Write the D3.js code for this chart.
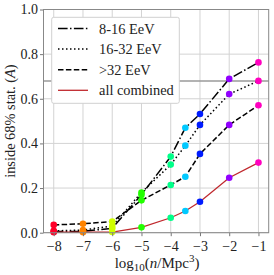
<!DOCTYPE html>
<html>
<head>
<meta charset="utf-8">
<script src="https://cdn.jsdelivr.net/npm/d3@7"></script>
<style>
body { margin: 0; background: #fff; }
text { font-family: "Liberation Serif", "DejaVu Serif", serif; fill: #222; }
</style>
</head>
<body>
<script>
// number density, log10(n/Mpc^3)
var logDensity = [-8, -7, -6, -5, -4, -3.5, -3, -2, -1];

// fraction inside the 68% stat. region
var energy8to16 = [0.005, 0.006, 0.02, 0.17, 0.341, 0.470, 0.532, 0.689, 0.763];
var energy16to32 = [0.008, 0.012, 0.03, 0.18, 0.305, 0.390, 0.483, 0.621, 0.680];
var energyAbove32 = [0.035, 0.040, 0.05, 0.145, 0.214, 0.251, 0.353, 0.483, 0.571];
var allCombined = [0.002, 0.002, 0.003, 0.024, 0.067, 0.097, 0.139, 0.246, 0.314];

var seriesNames = ["8-16 EeV", "16-32 EeV", ">32 EeV", "all combined"];
var xTicks = [-8, -7, -6, -5, -4, -3, -2, -1];
var yTicks = [0, 0.2, 0.4, 0.6, 0.8, 1.0];
var refLevel = 0.68;

(function(){

var width = 274, height = 275;
var plotLeft = 43.5, plotRight = 268.7, plotTop = 9.5, plotBottom = 232.7;

var series = [
	{name: seriesNames[0], values: energy8to16, dash: "9.6,2.4,1.5,2.4", color: "#000", lw: 1.5},
	{name: seriesNames[1], values: energy16to32, dash: "1.5,2.5", color: "#000", lw: 1.5},
	{name: seriesNames[2], values: energyAbove32, dash: "5.5,2.4", color: "#000", lw: 1.5},
	{name: seriesNames[3], values: allCombined, dash: null, color: "#c0282d", lw: 1.3}
];

// gist_rainbow, sampled by point index
var rainbow = d3.scaleLinear()
	.domain([0, 0.03, 0.215, 0.4, 0.586, 0.77, 0.954, 1])
	.range(["#ff0029", "#ff0000", "#ffff00", "#00ff00", "#00ffff", "#0000ff", "#ff00ff", "#ff00bf"]);

var x = d3.scaleLinear().domain([-8.35, -0.65]).range([plotLeft, plotRight]);
var y = d3.scaleLinear().domain([0, 1]).range([plotBottom, plotTop]);

var svg = d3.select("body").append("svg")
	.attr("width", width)
	.attr("height", height);

// grid
svg.append("g").selectAll("line").data(xTicks).join("line")
	.attr("x1", function(d){ return x(d); })
	.attr("x2", function(d){ return x(d); })
	.attr("y1", plotTop).attr("y2", plotBottom)
	.attr("stroke", "#d3d3d3").attr("stroke-width", 1);
svg.append("g").selectAll("line").data(yTicks).join("line")
	.attr("x1", plotLeft).attr("x2", plotRight)
	.attr("y1", function(d){ return y(d); })
	.attr("y2", function(d){ return y(d); })
	.attr("stroke", "#d3d3d3").attr("stroke-width", 1);

svg.append("line")
	.attr("x1", plotLeft).attr("x2", plotRight)
	.attr("y1", y(refLevel)).attr("y2", y(refLevel))
	.attr("stroke", "#9a9a9a").attr("stroke-width", 1.5);

// lines
var line = d3.line()
	.x(function(d, i){ return x(logDensity[i]); })
	.y(function(d){ return y(d); });

series.forEach(function(s){
	svg.append("path")
		.attr("d", line(s.values))
		.attr("fill", "none")
		.attr("stroke", s.color)
		.attr("stroke-width", s.lw)
		.attr("stroke-dasharray", s.dash);
});

series.forEach(function(s){
	svg.append("g").selectAll("circle").data(s.values).join("circle")
		.attr("cx", function(d, i){ return x(logDensity[i]); })
		.attr("cy", function(d){ return y(d); })
		.attr("r", 3.3)
		.attr("fill", function(d, i){ return rainbow(i / (logDensity.length - 1)); });
});

// axes
var xAxis = svg.append("g")
	.attr("transform", "translate(0," + plotBottom + ")")
	.call(d3.axisBottom(x).tickValues(xTicks).tickSizeOuter(0).tickSize(3.5).tickPadding(5)
		.tickFormat(function(d){ return "\u2212" + Math.abs(d); }));
var yAxis = svg.append("g")
	.attr("transform", "translate(" + plotLeft + ",0)")
	.call(d3.axisLeft(y).tickValues(yTicks).tickSizeOuter(0).tickSize(3.5).tickPadding(2)
		.tickFormat(d3.format(".1f")));

[xAxis, yAxis].forEach(function(a){
	a.select(".domain").remove();
	a.selectAll("line").attr("stroke", "#777");
	a.selectAll("text").attr("font-size", 14).attr("fill", "#222")
		.style("font-family", "Liberation Serif, serif");
});

svg.append("rect")
	.attr("x", plotLeft).attr("y", plotTop)
	.attr("width", plotRight - plotLeft).attr("height", plotBottom - plotTop)
	.attr("fill", "none").attr("stroke", "#888").attr("stroke-width", 1);

// legend
var legend = svg.append("g");
legend.append("rect")
	.attr("x", 51.7).attr("y", 17.3)
	.attr("width", 127.6).attr("height", 86)
	.attr("rx", 2)
	.attr("fill", "#fff").attr("stroke", "#d0d0d0");

series.forEach(function(s, i){
	var ly = 28.5 + i * 20.6;
	legend.append("line")
		.attr("x1", 58).attr("x2", 88)
		.attr("y1", ly).attr("y2", ly)
		.attr("stroke", s.color)
		.attr("stroke-width", s.lw)
		.attr("stroke-dasharray", s.dash);
	legend.append("text")
		.attr("x", 99).attr("y", ly + 5)
		.attr("font-size", 14.4)
		.text(s.name);
});

// labels
svg.append("text")
	.attr("text-anchor", "middle")
	.attr("x", (plotLeft + plotRight) / 2 + 1).attr("y", 268)
	.attr("font-size", 15)
	.call(function(t){
		t.append("tspan").text("log");
		t.append("tspan").attr("font-size", 11).attr("dy", 3).text("10");
		t.append("tspan").attr("dy", -3).text("(");
		t.append("tspan").attr("font-style", "italic").text("n");
		t.append("tspan").text("/Mpc");
		t.append("tspan").attr("font-size", 11).attr("dy", -6).text("3");
		t.append("tspan").attr("dy", 6).text(")");
	});

svg.append("text")
	.attr("text-anchor", "middle")
	.attr("transform", "translate(15," + ((plotTop + plotBottom) / 2) + ") rotate(-90)")
	.attr("font-size", 14.4)
	.call(function(t){
		t.append("tspan").text("inside 68% stat. (");
		t.append("tspan").attr("font-style", "italic").text("A");
		t.append("tspan").text(")");
	});

})();
</script>
</body>
</html>
